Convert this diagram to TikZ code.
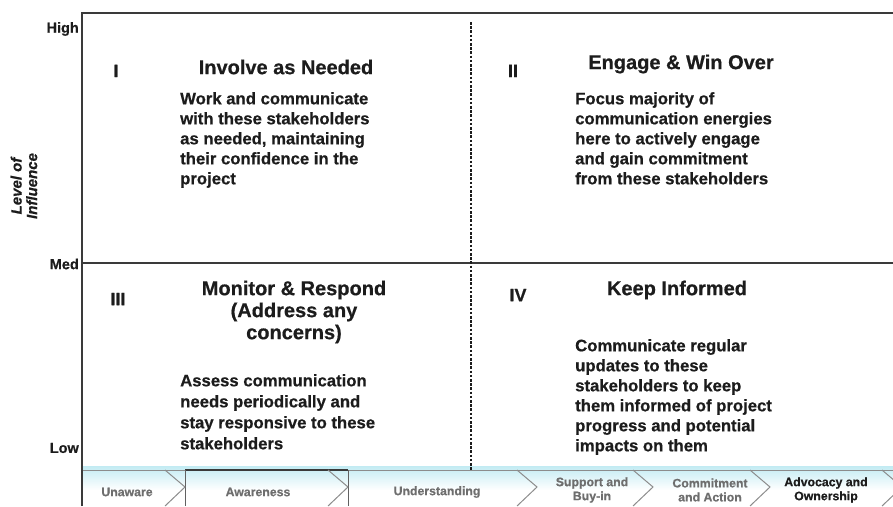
\documentclass[tikz,border=0pt]{standalone}
\usepackage{fontspec}
\setmainfont{Liberation Sans}[BoldFeatures={FakeBold=0.6}, BoldItalicFeatures={FakeBold=0.6}]
\begin{document}
\definecolor{ink}{HTML}{1C1C1C}
\definecolor{rule}{HTML}{3A3A3A}
\definecolor{bandtxt}{HTML}{6E6E6E}
\definecolor{bandtop}{HTML}{C2EBF3}
\definecolor{sepline}{HTML}{8C8C8C}
\begin{tikzpicture}[x=1pt,y=-1pt,
  axisline/.style={draw=rule, line width=1.4pt},
  divider/.style={draw=ink, line width=1.6pt, dash pattern=on 2.6pt off 1.6pt},
  quadtitle/.style={font=\fontsize{20}{22}\selectfont\bfseries, text=ink, inner sep=0pt, align=center},
  quadbody/.style={font=\fontsize{16.7}{20}\selectfont\bfseries, text=ink, inner sep=0pt, align=left, anchor=north west},
  numeral/.style={font=\fontsize{18}{20}\selectfont\bfseries, text=ink, inner sep=0pt},
  levellabel/.style={font=\fontsize{14.5}{16}\selectfont\bfseries, text=ink, inner sep=0pt, anchor=east},
  stage/.style={font=\fontsize{12.3}{14}\selectfont\bfseries, text=bandtxt, inner sep=0pt, align=center},
  chevron/.style={draw=sepline, line width=1pt},
  stagewall/.style={draw=rule!80, line width=1pt}]
\useasboundingbox (0,0) rectangle (893,506);

% frame coordinates
\coordinate (axtop) at (82,13);
\coordinate (axbot) at (82,506);
\coordinate (topright) at (893,13);
\coordinate (midleft) at (82,263);
\coordinate (midright) at (893,263);
\coordinate (dashtop) at (471,22);
\coordinate (dashbot) at (471,470);
\coordinate (bandleft) at (82,470);
\coordinate (bandright) at (893,470);

% stage band along the bottom
\shade[top color=bandtop, bottom color=white] (82,466) rectangle (893,490);
\draw[draw=sepline, line width=1pt] (bandleft) -- (bandright);
\draw[draw=rule, line width=1.2pt] (185,470) -- (348,470);
\foreach \sx in {185,348}{
  \draw[stagewall] (\sx,470) -- (\sx,506);
}
\foreach \sx in {185,348,537,653,770,902}{
  \draw[chevron] (\sx-20,470) -- (\sx,487) -- (\sx-20,506);
}

% axes and quadrant lines
\draw[axisline] (axbot) -- (axtop) -- (topright);
\draw[axisline] (midleft) -- (midright);
\draw[divider] (dashtop) -- (dashbot);

% influence levels
\node[levellabel] (high) at (79,29) {High};
\node[levellabel] (med) at (79,264) {Med};
\node[levellabel] (low) at (79,448) {Low};
\node[font=\fontsize{15}{15.5}\selectfont\bfseries\itshape, text=ink, inner sep=0pt,
      align=center, rotate=90] (axisname) at (24,186) {Level of\\Influence};

% quadrant I
\node[numeral] (q1num) at (116,71) {I};
\node[quadtitle] (q1title) at (286,67) {Involve as Needed};
\node[quadbody] (q1body) at (180,92) {Work and communicate\\with these stakeholders\\as needed, maintaining\\their confidence in the\\project};

% quadrant II
\node[numeral] (q2num) at (513,71) {II};
\node[quadtitle] (q2title) at (681,64) {Engage \& Win Over};
\node[quadbody] (q2body) at (575,92) {Focus majority of\\communication energies\\here to actively engage\\and gain commitment\\from these stakeholders};

% quadrant III
\node[numeral] (q3num) at (118,299) {III};
\node[quadtitle] (q3title) at (294,312) {Monitor \& Respond\\(Address any\\concerns)};
\node[quadbody, font=\fontsize{16.7}{21}\selectfont\bfseries] (q3body) at (180,374) {Assess communication\\needs periodically and\\stay responsive to these\\stakeholders};

% quadrant IV
\node[numeral] (q4num) at (518,295) {IV};
\node[quadtitle] (q4title) at (677,290) {Keep Informed};
\node[quadbody] (q4body) at (575,339) {Communicate regular\\updates to these\\stakeholders to keep\\them informed of project\\progress and potential\\impacts on them};

% stages of commitment
\node[stage] (unaware) at (127,492) {Unaware};
\node[stage] (aware) at (258,492) {Awareness};
\node[stage] (understand) at (437,492) {Understanding};
\node[stage] (support) at (592,490) {Support and\\Buy-in};
\node[stage] (commit) at (710,490) {Commitment\\and Action};
\node[stage, text=ink] (advocacy) at (826,490) {Advocacy and\\Ownership};
\end{tikzpicture}
\end{document}
